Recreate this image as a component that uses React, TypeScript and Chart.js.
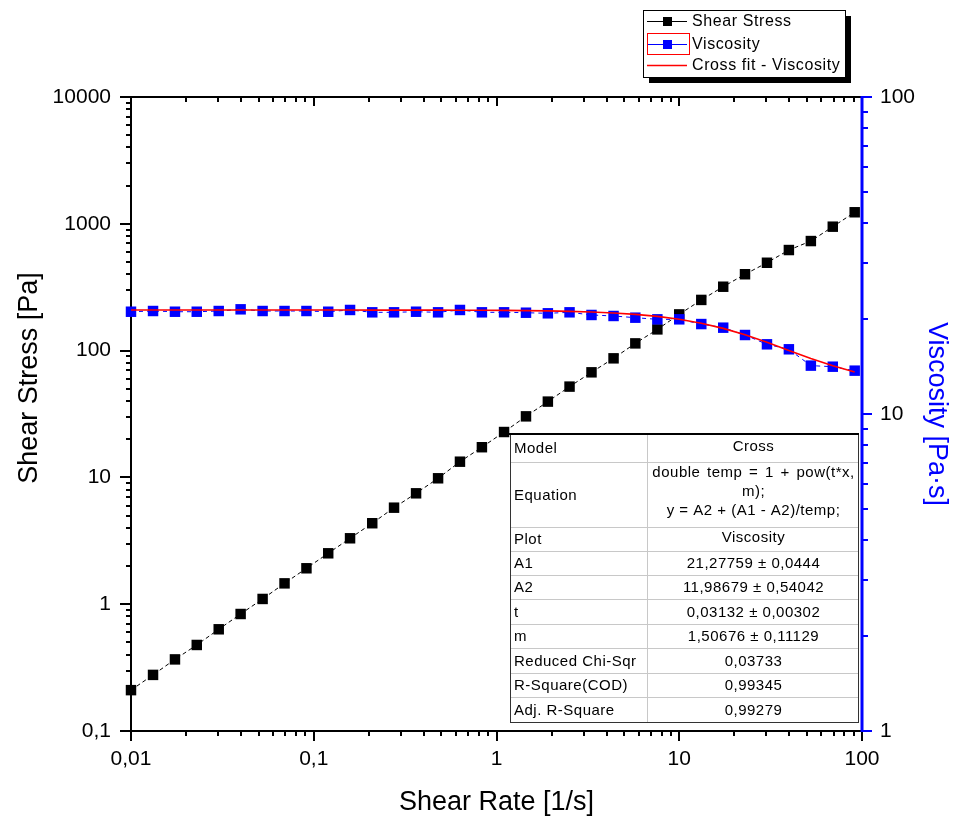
import React, { useEffect, useRef } from 'react';
import { Chart, registerables } from 'chart.js';

Chart.register(...registerables);

// Measured flow curve (log-spaced shear rates)
const shearRate = [
  0.01, 0.0132, 0.0174, 0.0229, 0.0302, 0.0398, 0.0525, 0.0692, 0.0912, 0.12,
  0.158, 0.209, 0.275, 0.363, 0.479, 0.631, 0.832, 1.1, 1.45, 1.91,
  2.51, 3.31, 4.37, 5.75, 7.59, 10.0, 13.2, 17.4, 22.9, 30.2,
  39.8, 52.5, 69.2, 91.2,
];

const shearStress = [
  0.21, 0.277, 0.367, 0.477, 0.634, 0.837, 1.1, 1.46, 1.92, 2.52,
  3.31, 4.35, 5.77, 7.49, 9.84, 13.3, 17.3, 22.8, 30.3, 39.6,
  52.0, 67.4, 86.9, 114, 147, 193, 251, 319, 400, 493,
  621, 731, 949, 1233,
];

const viscosity = [
  21.02, 21.13, 21.02, 21.02, 21.13, 21.39, 21.13, 21.13, 21.13, 21.02,
  21.29, 20.93, 20.93, 21.02, 20.93, 21.29, 20.93, 20.93, 20.87, 20.78,
  20.93, 20.53, 20.38, 20.13, 19.89, 19.89, 19.22, 18.72, 17.75, 16.59,
  16.0, 14.21, 14.1, 13.7,
];

// Cross model fit evaluated at the measured shear rates
const crossFit = [
  21.278, 21.278, 21.278, 21.278, 21.277, 21.277, 21.277, 21.277, 21.276, 21.276,
  21.274, 21.273, 21.27, 21.266, 21.261, 21.253, 21.24, 21.22, 21.191, 21.147,
  21.08, 20.982, 20.837, 20.625, 20.322, 19.902, 19.339, 18.625, 17.771, 16.827,
  15.868, 14.971, 14.196, 13.572,
];

const rateTicks = [0.01, 0.1, 1, 10, 100];
const stressTicks = [0.1, 1, 10, 100, 1000, 10000];
const viscosityTicks = [1, 10, 100];

const fitLabels = [
  'Model', 'Equation', 'Plot', 'A1', 'A2', 't', 'm',
  'Reduced Chi-Sqr', 'R-Square(COD)', 'Adj. R-Square',
];
const fitValues = [
  ['Cross'],
  ['double temp = 1 + pow(t*x,', 'm);', 'y = A2 + (A1 - A2)/temp;'],
  ['Viscosity'],
  ['21,27759 \u00b1 0,0444'],
  ['11,98679 \u00b1 0,54042'],
  ['0,03132 \u00b1 0,00302'],
  ['1,50676 \u00b1 0,11129'],
  ['0,03733'],
  ['0,99345'],
  ['0,99279'],
];

const FONT = '"Liberation Sans", Arial, sans-serif';

const fmt = (v: number) => String(v).replace('.', ',');

function minorValues(min: number, max: number): number[] {
  const out: number[] = [];
  for (let e = Math.floor(Math.log10(min)); e < Math.ceil(Math.log10(max)); e++) {
    for (let k = 2; k <= 9; k++) {
      const v = k * Math.pow(10, e);
      if (v > min && v < max) out.push(v);
    }
  }
  return out;
}

function seg(ctx: CanvasRenderingContext2D, x1: number, y1: number, x2: number, y2: number) {
  ctx.beginPath();
  ctx.moveTo(x1, y1);
  ctx.lineTo(x2, y2);
  ctx.stroke();
}

const framePlugin = {
  id: 'frame',
  beforeDatasetsDraw(chart: any) {
    const { ctx, chartArea: a } = chart;
    const sx = chart.scales.x;
    const sy = chart.scales.y;
    const sv = chart.scales.y1;
    const L = Math.round(a.left);
    const R = Math.round(a.right);
    const T = Math.round(a.top);
    const B = Math.round(a.bottom);
    ctx.save();
    ctx.lineCap = 'butt';
    ctx.strokeStyle = '#000';
    ctx.lineWidth = 2;
    seg(ctx, L, T - 1, L, B + 1);
    seg(ctx, L - 1, T, R, T);
    seg(ctx, L - 1, B, R, B);

    // shear-rate ticks: outward at the bottom, inward at the top
    for (const v of rateTicks) {
      const p = Math.round(sx.getPixelForValue(v));
      seg(ctx, p, B, p, B + 10);
      seg(ctx, p, T, p, T + 9);
    }
    for (const v of minorValues(0.01, 100)) {
      const p = Math.round(sx.getPixelForValue(v));
      seg(ctx, p, B, p, B + 5);
      seg(ctx, p, T, p, T + 5);
    }
    // shear-stress ticks, outward
    for (const v of stressTicks) {
      const p = Math.round(sy.getPixelForValue(v));
      seg(ctx, L - 11, p, L, p);
    }
    for (const v of minorValues(0.1, 10000)) {
      const p = Math.round(sy.getPixelForValue(v));
      seg(ctx, L - 5, p, L, p);
    }
    // viscosity axis in blue
    ctx.strokeStyle = '#0000ff';
    ctx.lineWidth = 3;
    seg(ctx, R, T - 1, R, B + 1);
    ctx.lineWidth = 2;
    for (const v of viscosityTicks) {
      const p = Math.round(sv.getPixelForValue(v));
      seg(ctx, R, p, R + 10, p);
    }
    for (const v of minorValues(1, 100)) {
      const p = Math.round(sv.getPixelForValue(v));
      seg(ctx, R, p, R + 6, p);
    }

    // axis titles
    ctx.fillStyle = '#000';
    ctx.font = `27px ${FONT}`;
    ctx.textAlign = 'center';
    ctx.textBaseline = 'middle';
    ctx.fillText('Shear Rate [1/s]', (L + R) / 2, 803);
    ctx.save();
    ctx.translate(30, 378);
    ctx.rotate(-Math.PI / 2);
    ctx.fillText('Shear Stress [Pa]', 0, 0);
    ctx.restore();
    ctx.save();
    ctx.fillStyle = '#0000ff';
    ctx.translate(936, (T + B) / 2);
    ctx.rotate(Math.PI / 2);
    ctx.fillText('Viscosity [Pa\u00b7s]', 0, 0);
    ctx.restore();
    ctx.restore();
  },
  afterDatasetsDraw(chart: any) {
    const { ctx } = chart;
    ctx.save();

    // ---- fit parameter table ----
    const tx0 = 510;
    const tx1 = 858;
    const tcol = 647;
    const rows = [434, 462, 527, 551, 575, 599, 624, 648, 673, 697, 722];
    ctx.fillStyle = '#fff';
    ctx.fillRect(tx0, rows[0], tx1 - tx0, rows[rows.length - 1] - rows[0]);
    ctx.strokeStyle = '#c8c8c8';
    ctx.lineWidth = 1;
    for (let i = 1; i < rows.length - 1; i++) seg(ctx, tx0, rows[i] + 0.5, tx1, rows[i] + 0.5);
    seg(ctx, tcol + 0.5, rows[0], tcol + 0.5, rows[rows.length - 1]);
    ctx.strokeStyle = '#333';
    ctx.strokeRect(tx0 + 0.5, rows[0] + 0.5, tx1 - tx0, rows[rows.length - 1] - rows[0]);
    ctx.strokeStyle = '#000';
    ctx.lineWidth = 2;
    seg(ctx, tx0 - 2, rows[0], tx1 + 1, rows[0]);

    ctx.fillStyle = '#000';
    ctx.font = `15px ${FONT}`;
    (ctx as any).letterSpacing = '0.5px';
    ctx.textBaseline = 'middle';
    for (let i = 0; i < fitLabels.length; i++) {
      const cy = (rows[i] + rows[i + 1]) / 2 + 1;
      ctx.textAlign = 'left';
      ctx.fillText(fitLabels[i], 514, cy);
      ctx.textAlign = 'center';
      const lines = fitValues[i];
      if (lines.length === 1) {
        ctx.fillText(lines[0], (tcol + tx1) / 2 + 1, i === 0 || i === 2 ? cy - 2 : cy);
      } else {
        const ys = [473, 492, 511];
        lines.forEach((t, k) => {
          (ctx as any).wordSpacing = k === 0 ? '2px' : '0px';
          ctx.fillText(t, (tcol + tx1) / 2 + 1, ys[k]);
        });
        (ctx as any).wordSpacing = '0px';
      }
    }

    // ---- legend ----
    const lx0 = 643;
    const ly0 = 10;
    const lw = 202;
    const lh = 67;
    ctx.fillStyle = '#000';
    ctx.fillRect(lx0 + 6, ly0 + 6, lw, lh);
    ctx.fillStyle = '#fff';
    ctx.fillRect(lx0, ly0, lw, lh);
    ctx.strokeStyle = '#000';
    ctx.lineWidth = 1;
    ctx.strokeRect(lx0 + 0.5, ly0 + 0.5, lw, lh);

    const entries = [
      { label: 'Shear Stress', color: '#000', marker: true, y: 21 },
      { label: 'Viscosity', color: '#0000ff', marker: true, y: 44 },
      { label: 'Cross fit - Viscosity', color: '#ff0000', marker: false, y: 65 },
    ];
    for (const e of entries) {
      ctx.strokeStyle = e.color;
      ctx.lineWidth = e.marker ? 1 : 1.5;
      seg(ctx, 647, e.y + 0.5, 687, e.y + 0.5);
      if (e.marker) {
        ctx.fillStyle = e.color;
        ctx.fillRect(663, e.y - 4, 9, 9);
      }
      ctx.fillStyle = '#000';
      ctx.font = `16px ${FONT}`;
      (ctx as any).letterSpacing = '0.6px';
      ctx.textAlign = 'left';
      ctx.fillText(e.label, 692, e.y + 1);
    }
    ctx.strokeStyle = '#ff0000';
    ctx.lineWidth = 1;
    ctx.strokeRect(647.5, 33.5, 42, 21);
    (ctx as any).letterSpacing = '0px';
    ctx.restore();
  },
};

export default function App() {
  const canvasRef = useRef<HTMLCanvasElement | null>(null);

  useEffect(() => {
    const canvas = canvasRef.current;
    if (!canvas) return;
    const tickFont = { family: FONT, size: 21 };
    const chart = new Chart(canvas, {
      type: 'line',
      data: {
        datasets: [
          {
            label: 'Cross fit - Viscosity',
            data: shearRate.map((x, i) => ({ x, y: crossFit[i] })),
            yAxisID: 'y1',
            borderColor: '#ff0000',
            borderWidth: 1.6,
            pointRadius: 0,
            order: 1,
            clip: false,
          },
          {
            label: 'Viscosity',
            data: shearRate.map((x, i) => ({ x, y: viscosity[i] })),
            yAxisID: 'y1',
            borderColor: '#0000ff',
            backgroundColor: '#0000ff',
            pointBackgroundColor: '#0000ff',
            borderWidth: 1,
            borderDash: [4, 4],
            pointStyle: 'rect',
            pointRadius: 7.4,
            pointBorderWidth: 0,
            order: 2,
            clip: false,
          },
          {
            label: 'Shear Stress',
            data: shearRate.map((x, i) => ({ x, y: shearStress[i] })),
            yAxisID: 'y',
            borderColor: '#000',
            backgroundColor: '#000',
            pointBackgroundColor: '#000',
            borderWidth: 1,
            borderDash: [4, 3],
            pointStyle: 'rect',
            pointRadius: 7.4,
            pointBorderWidth: 0,
            order: 3,
            clip: false,
          },
        ] as any,
      },
      options: {
        animation: false,
        responsive: false,
        events: [],
        layout: { padding: { top: 97, left: 0, right: 0, bottom: 0 } },
        plugins: { legend: { display: false }, tooltip: { enabled: false } },
        scales: {
          x: {
            type: 'logarithmic',
            position: 'bottom',
            min: 0.01,
            max: 100,
            grid: { display: false, drawTicks: false },
            border: { display: false },
            afterBuildTicks: (s: any) => {
              s.ticks = rateTicks.map((value) => ({ value }));
            },
            afterFit: (s: any) => {
              s.height = 86;
            },
            ticks: {
              callback: (v: any) => fmt(Number(v)),
              font: tickFont,
              color: '#000',
              padding: 16,
              maxRotation: 0,
              autoSkip: false,
            },
          },
          y: {
            type: 'logarithmic',
            position: 'left',
            min: 0.1,
            max: 10000,
            grid: { display: false, drawTicks: false },
            border: { display: false },
            afterBuildTicks: (s: any) => {
              s.ticks = stressTicks.map((value) => ({ value }));
            },
            afterFit: (s: any) => {
              s.width = 131;
            },
            ticks: {
              callback: (v: any) => fmt(Number(v)),
              font: tickFont,
              color: '#000',
              padding: 20,
              autoSkip: false,
            },
          },
          y1: {
            type: 'logarithmic',
            position: 'right',
            min: 1,
            max: 100,
            grid: { display: false, drawTicks: false },
            border: { display: false },
            afterBuildTicks: (s: any) => {
              s.ticks = viscosityTicks.map((value) => ({ value }));
            },
            afterFit: (s: any) => {
              s.width = 92;
            },
            ticks: {
              callback: (v: any) => fmt(Number(v)),
              font: tickFont,
              color: '#000',
              padding: 18,
              autoSkip: false,
            },
          },
        },
      } as any,
      plugins: [framePlugin],
    });
    return () => chart.destroy();
  }, []);

  return (
    <div style={{ position: 'fixed', left: 0, top: 0, width: 954, height: 817, background: '#fff' }}>
      <canvas ref={canvasRef} width={954} height={817} style={{ display: 'block' }} />
    </div>
  );
}
